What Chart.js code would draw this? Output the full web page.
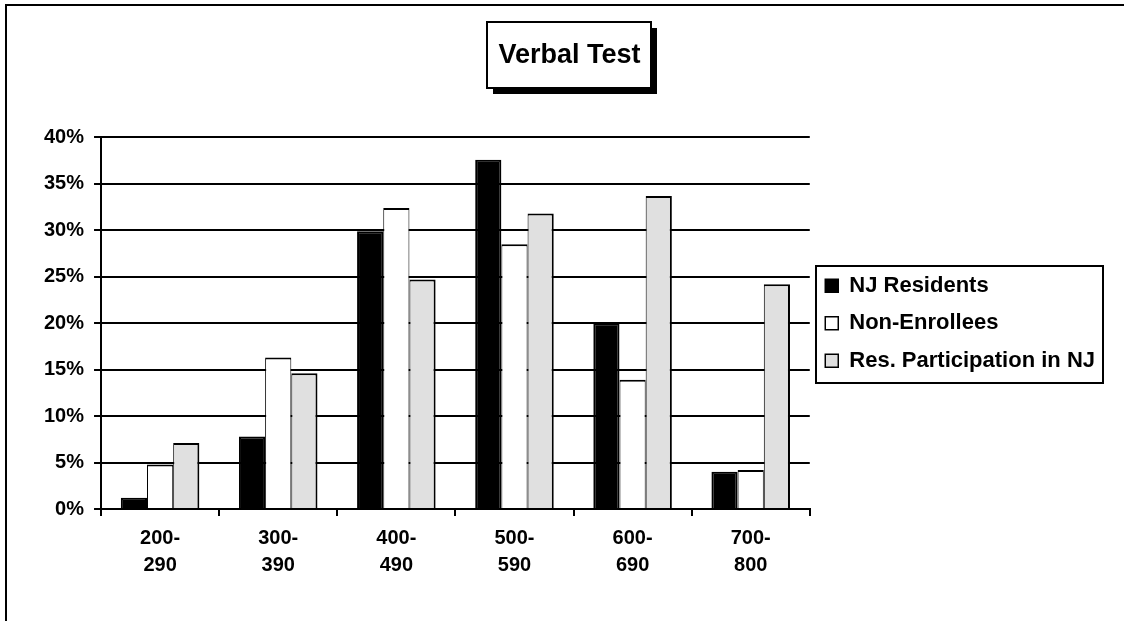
<!DOCTYPE html>
<html>
<head>
<meta charset="utf-8">
<script src="https://cdn.jsdelivr.net/npm/chart.js@4.4.0/dist/chart.umd.min.js"></script>
<style>
  html, body { margin: 0; padding: 0; background: #fff; }
  #wrap { width: 1124px; height: 621px; }
</style>
</head>
<body>
<div id="wrap"><canvas id="chart" width="1124" height="621"></canvas></div>
<script>
// Score bands (two-line labels like the original)
const categories = [
  ["200-", "290"], ["300-", "390"], ["400-", "490"],
  ["500-", "590"], ["600-", "690"], ["700-", "800"]
];

// Percent of students in each band
const njResidents      = [1.2, 7.8, 29.9, 37.6, 20.0, 4.0];
const nonEnrollees     = [4.8, 16.3, 32.4, 28.5, 13.9, 4.2];
const resParticipation = [7.1, 14.6, 24.7, 31.8, 33.7, 24.2];

const seriesNames = ["NJ Residents", "Non-Enrollees", "Res. Participation in NJ"];

// Y axis ticks: 0% .. 40% every 5%
const yMin = 0;
const yMax = 40;
const yStep = 5;

const FONT = "Arial, 'Liberation Sans', sans-serif";

// Draws the outer frame, the shadowed title box and the legend border
const framePlugin = {
  id: "frame",
  beforeDraw(chart) {
    const ctx = chart.ctx;
    ctx.save();
    ctx.fillStyle = "#fff";
    ctx.fillRect(0, 0, chart.width, chart.height);

    // outer chart border (cut off at the right and bottom)
    ctx.strokeStyle = "#000";
    ctx.lineWidth = 2;
    ctx.beginPath();
    ctx.moveTo(6, chart.height);
    ctx.lineTo(6, 5);
    ctx.lineTo(chart.width, 5);
    ctx.stroke();

    // title box with drop shadow
    const tb = chart.titleBlock;
    if (tb) {
      const opts = chart.options.plugins.title;
      ctx.font = `bold ${opts.font.size}px ${FONT}`;
      const w = ctx.measureText(opts.text).width;
      const cx = (tb.left + tb.right) / 2;
      const bx = Math.round(cx - w / 2 - 11);
      const bw = Math.round(w + 22);
      const by = tb.top;
      const bh = 66;
      ctx.fillStyle = "#000";
      ctx.fillRect(bx + 6, by + 6, bw, bh);
      ctx.fillStyle = "#fff";
      ctx.fillRect(bx, by, bw, bh);
      ctx.strokeRect(bx, by, bw, bh);
    }
    ctx.restore();
  },
  afterDraw(chart) {
    const boxes = chart.legend && chart.legend.legendHitBoxes;
    if (!boxes || !boxes.length) return;
    const ctx = chart.ctx;
    let left = Infinity, right = -Infinity;
    boxes.forEach(b => {
      left = Math.min(left, b.left);
      right = Math.max(right, b.left + b.width);
    });
    const top = boxes[0].top;
    const last = boxes[boxes.length - 1];
    const bottom = last.top + last.height;
    ctx.save();
    ctx.strokeStyle = "#000";
    ctx.lineWidth = 2;
    ctx.strokeRect(Math.round(left - 9), Math.round(top - 9), Math.round(right - left + 17), Math.round(bottom - top + 20));
    ctx.restore();
  }
};

new Chart(document.getElementById("chart").getContext("2d"), {
  type: "bar",
  data: {
    labels: categories,
    datasets: [
      {
        label: seriesNames[0],
        data: njResidents,
        backgroundColor: "#000",
        borderColor: "#000",
        borderWidth: 2
      },
      {
        label: seriesNames[1],
        data: nonEnrollees,
        backgroundColor: "#fff",
        borderColor: "#000",
        borderWidth: { top: 2, left: 1, right: 1, bottom: 0 }
      },
      {
        label: seriesNames[2],
        data: resParticipation,
        backgroundColor: "#e0e0e0",
        borderColor: "#000",
        borderWidth: { top: 2, left: 1, right: 2, bottom: 0 }
      }
    ]
  },
  options: {
    responsive: false,
    animation: false,
    devicePixelRatio: 1,
    categoryPercentage: 0.665,
    barPercentage: 1,
    layout: { padding: { top: 22, left: 34, right: 19, bottom: 33 } },
    plugins: {
      title: {
        display: true,
        text: "Verbal Test",
        color: "#000",
        font: { family: FONT, size: 27, weight: "bold" },
        padding: { top: 17, bottom: 66 }
      },
      legend: {
        position: "right",
        fullSize: false,
        maxWidth: 400,
        labels: {
          color: "#000",
          font: { family: FONT, size: 22, weight: "bold" },
          boxWidth: 13,
          boxHeight: 13,
          padding: 15.5,
          generateLabels(chart) {
            return chart.data.datasets.map((ds, i) => ({
              text: ds.label,
              fillStyle: ds.backgroundColor,
              strokeStyle: "#000",
              lineWidth: 1.5,
              datasetIndex: i,
              hidden: false,
              fontColor: "#000"
            }));
          }
        }
      },
      tooltip: { enabled: false }
    },
    scales: {
      x: {
        grid: {
          display: true,
          drawOnChartArea: false,
          drawTicks: true,
          tickLength: 7,
          color: "#000",
          lineWidth: 2,
          offset: true
        },
        border: { display: true, color: "#000", width: 2 },
        ticks: {
          color: "#000",
          font: { family: FONT, size: 20, weight: "bold", lineHeight: 1.35 },
          padding: 9,
          maxRotation: 0,
          autoSkip: false
        }
      },
      y: {
        min: yMin,
        max: yMax,
        grid: {
          color: "#000",
          lineWidth: 2,
          tickLength: 7,
          drawTicks: true
        },
        border: { display: true, color: "#000", width: 2 },
        ticks: {
          stepSize: yStep,
          color: "#000",
          font: { family: FONT, size: 20, weight: "bold" },
          padding: 10,
          callback: v => v + "%"
        }
      }
    }
  },
  plugins: [framePlugin]
});
</script>
</body>
</html>
